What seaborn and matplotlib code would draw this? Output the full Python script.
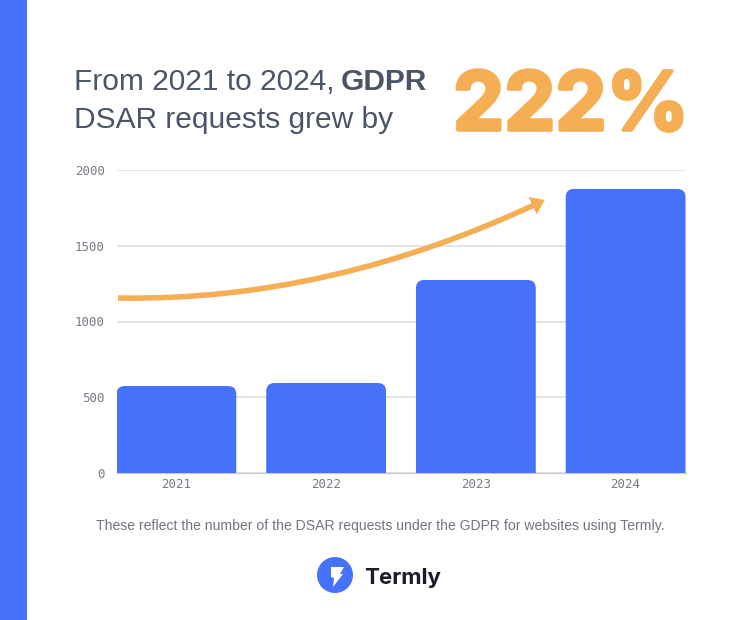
import matplotlib
matplotlib.use("Agg")
import matplotlib.pyplot as plt
import matplotlib.patheffects as pe
import pandas as pd
import seaborn as sns
from matplotlib.patches import Circle, FancyArrowPatch, FancyBboxPatch, Polygon, Rectangle
from matplotlib.path import Path

years = ["2021", "2022", "2023", "2024"]
requests = [574, 594, 1274, 1875]
y_ticks = [0, 500, 1000, 1500, 2000]
trend_x = [-0.39, 1.02, 2.46]
trend_y = [1155, 1130, 1802]

BLUE = "#4671fb"
ORANGE = "#f6ae55"
SLATE = "#4b5568"
W, H = 740, 620

sns.set_theme(style="white")
plt.rcParams["font.family"] = ["Inter", "Liberation Sans", "DejaVu Sans"]

fig = plt.figure(figsize=(W / 100, H / 100), dpi=100, facecolor="white")
ax = fig.add_axes([116.5 / W, 1 - 473 / H, 569 / W, 303 / H])

df = pd.DataFrame({"year": years, "requests": requests})
sns.barplot(data=df, x="year", y="requests", color=BLUE, width=0.8, saturation=1, ax=ax, zorder=3)
ax.set_xlim(-0.4, 3.4)
ax.set_ylim(0, 2000)

# rounded tops: swap each bar for a rounded box, with the bottom clipped by the axis
aspect = (2000 / 303) / (3.8 / 569)
for bar in list(ax.patches):
    x, w, h = bar.get_x(), bar.get_width(), bar.get_height()
    bar.set_visible(False)
    pad = 0.055
    ax.add_patch(FancyBboxPatch((x + pad, -300), w - 2 * pad, h + 300 - pad * aspect,
                                boxstyle=f"round,pad={pad},rounding_size={pad}",
                                mutation_aspect=aspect, fc=BLUE, ec="none", zorder=3, clip_on=True))

ax.set_yticks(y_ticks)
ax.set_xlabel("")
ax.set_ylabel("")
ax.grid(axis="y", color="#dcdde0", lw=1.1, zorder=0)
ax.set_axisbelow(True)
for s in ax.spines.values():
    s.set_visible(False)
ax.spines["bottom"].set_visible(True)
ax.spines["bottom"].set_color("#c9ccd2")
ax.spines["bottom"].set_linewidth(1)
ax.tick_params(axis="both", length=0, labelsize=9, labelcolor="#777b84")
ax.tick_params(axis="x", pad=3.8)
ax.tick_params(axis="y", pad=8.5)
for t in ax.get_xticklabels() + ax.get_yticklabels():
    t.set_family("DejaVu Sans Mono")

# trend arrow
curve = Path(list(zip(trend_x, trend_y)), [Path.MOVETO, Path.CURVE3, Path.CURVE3])
ax.add_patch(FancyArrowPatch(path=curve, arrowstyle="-|>,head_length=4.2,head_width=3",
                             color=ORANGE, lw=4, shrinkA=0, shrinkB=0, zorder=5, clip_on=False,
                             joinstyle="miter", capstyle="butt"))

# overlay in pixel coordinates for page furniture
ov = fig.add_axes([0, 0, 1, 1], facecolor="none")
ov.set_xlim(0, W)
ov.set_ylim(H, 0)
ov.axis("off")
ov.add_patch(Rectangle((0, 0), 27, H, fc=BLUE, ec="none"))

ov.text(74, 90, "From 2021 to 2024,", fontsize=21.5, color=SLATE, va="baseline", ha="left", family="Liberation Sans")
ov.text(341, 90, "GDPR", fontsize=21.5, color=SLATE, va="baseline", ha="left", weight="bold", family="Liberation Sans")
ov.text(74, 128, "DSAR requests grew by", fontsize=21.5, color=SLATE, va="baseline", ha="left", family="Liberation Sans")
ov.text(453, 130, "222%", fontsize=58.5, color=ORANGE, va="baseline", ha="left", weight="bold", family="Inter",
        path_effects=[pe.withStroke(linewidth=2.6, foreground=ORANGE)])

ov.text(380, 526, "These reflect the number of the DSAR requests under the GDPR for websites using Termly.",
        fontsize=10.05, color="#70757f", ha="center", va="center", family="Liberation Sans")

ov.add_patch(Circle((335, 575), 18, fc=BLUE, ec="none"))
ov.add_patch(Polygon([(331, 567), (344, 567), (340, 574), (343, 574), (333, 587), (334, 578), (331, 577)],
                     fc="white", ec="none"))
ov.text(364, 584, "Termly", fontsize=16, color="#1a1c2c", weight="bold", ha="left", va="baseline", family="Inter")

fig.savefig("out.png", dpi=100, facecolor="white")
